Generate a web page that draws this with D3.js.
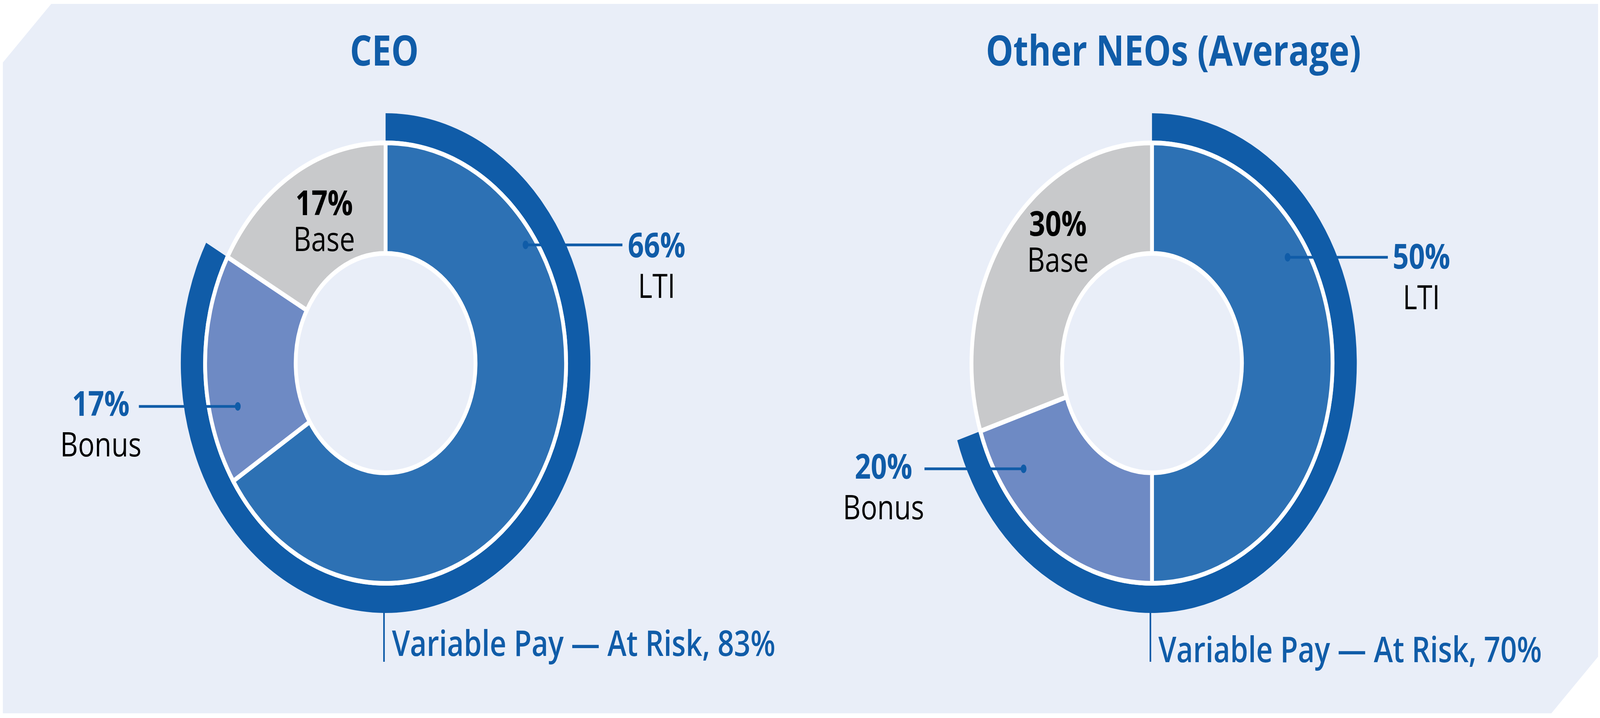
<!DOCTYPE html>
<html lang="en">
<head>
<meta charset="UTF-8">
<script src="https://d3js.org/d3.v7.min.js"></script>
<title>Pay mix</title>
<style>
  html, body { margin: 0; padding: 0; background: #ffffff; overflow: hidden; }
  #chart svg { display: block; }
  text { font-family: "Open Sans", "Noto Sans", sans-serif; }
</style>
</head>
<body>
<div id="chart"></div>
<script>

// data
var groups = ["CEO", "Other NEOs (Average)"];
var components = ["LTI", "Bonus", "Base"];
var ceoMix = [66, 17, 17];
var neoMix = [50, 20, 30];
var variablePay = [83, 70];
var variableLabel = "Variable Pay \u2014 At Risk, ";

var mixes = [ceoMix, neoMix];

// colours
var colour = d3.scaleOrdinal()
  .domain(components)
  .range(["#2D71B4", "#6E8AC4", "#C8C9CB"]);
var dark = "#105CA8";
var bg = "#E9EEF8";

var width = 5000, height = 1839;

// where each donut sits and where its labels go (offsets from centre)
var layout = [
  { cx: 1205, cy: 930, titleX: 1201, titleY: 168, varTextDy: 750,
    labels: {
      LTI:   { x: 847, y: -271, dotAngle: 55.3, dotR: 532, lineEnd: 740 },
      Bonus: { x: -890, y: 135, dotAngle: 256.5, dotR: 475, lineEnd: -771 },
      Base:  { x: -192, y: -379 }
    } },
  { cx: 3600, cy: 930, titleX: 3667, titleY: 168, varTextDy: 766,
    labels: {
      LTI:   { x: 842, y: -242, dotAngle: 57.4, dotR: 503, lineEnd: 737 },
      Bonus: { x: -839, y: 296, dotAngle: 236, dotR: 484, lineEnd: -711 },
      Base:  { x: -294, y: -326 }
    } }
];

var rInner = 281, rOuter = 564, ringIn = 570, ringOut = 640;

// the drawing is laid out on a 5000 x 1839 frame and stretched to the window
var svg = d3.select("#chart")
  .append("svg")
    .attr("viewBox", "0 0 " + width + " " + height)
    .attr("preserveAspectRatio", "none")
    .style("width", "100vw")
    .style("height", "100vh");

// background panel with cut corners
svg.append("polygon")
  .attr("points", [[160, 10], [4994, 10], [4994, 1682], [4848, 1827], [9, 1827], [9, 160]].join(" "))
  .attr("fill", bg);

var angle = d3.scaleLinear().domain([0, 100]).range([0, 2 * Math.PI]);

var pie = d3.pie().sort(null).value(function(d) { return d.value; });
var arc = d3.arc().innerRadius(rInner).outerRadius(rOuter);
var ring = d3.arc().innerRadius(ringIn).outerRadius(ringOut);

groups.forEach(function(name, i) {
  var L = layout[i];
  var g = svg.append("g")
    .attr("transform", "translate(" + L.cx + "," + L.cy + ")");

  var slices = pie(mixes[i].map(function(v, j) { return { key: components[j], value: v }; }));

  // outer "at risk" ring
  g.append("path")
    .attr("d", ring({ startAngle: 0, endAngle: angle(variablePay[i]) }))
    .attr("fill", dark);

  // donut slices
  g.selectAll("path.slice")
    .data(slices)
    .enter().append("path")
      .attr("class", "slice")
      .attr("d", arc)
      .attr("fill", function(d) { return colour(d.data.key); })
      .attr("stroke", "#ffffff")
      .attr("stroke-width", 12);

  // title
  svg.append("text")
    .attr("x", L.titleX)
    .attr("y", L.titleY)
    .attr("text-anchor", "middle")
    .attr("font-size", 108)
    .attr("font-weight", 700)
    .attr("fill", dark)
    .text(name);

  slices.forEach(function(s) {
    var key = s.data.key;
    var lab = L.labels[key];
    var pct = s.data.value + "%";
    if (key === "Base") {
      g.append("text")
        .attr("x", lab.x).attr("y", lab.y)
        .attr("text-anchor", "middle")
        .attr("font-size", 88).attr("font-weight", 700)
        .attr("fill", "#000").text(pct);
      g.append("text")
        .attr("x", lab.x).attr("y", lab.y + 92)
        .attr("text-anchor", "middle")
        .attr("font-size", 86).attr("font-weight", 400)
        .attr("fill", "#000").text(key);
      return;
    }
    var p = d3.pointRadial(lab.dotAngle * Math.PI / 180, lab.dotR);
    g.append("line")
      .attr("x1", p[0]).attr("y1", p[1])
      .attr("x2", lab.lineEnd).attr("y2", p[1])
      .attr("stroke", dark).attr("stroke-width", 7);
    g.append("ellipse")
      .attr("cx", p[0]).attr("cy", p[1])
      .attr("rx", 9).attr("ry", 11)
      .attr("fill", dark);
    g.append("text")
      .attr("x", lab.x).attr("y", lab.y)
      .attr("text-anchor", "middle")
      .attr("font-size", 88).attr("font-weight", 700)
      .attr("fill", dark).text(pct);
    g.append("text")
      .attr("x", lab.x).attr("y", lab.y + 104)
      .attr("text-anchor", "middle")
      .attr("font-size", 86).attr("font-weight", 400)
      .attr("fill", "#000").text(key);
  });

  // variable pay callout
  g.append("line")
    .attr("x1", -5).attr("y1", ringOut - 8)
    .attr("x2", -5).attr("y2", 765)
    .attr("stroke", dark).attr("stroke-width", 5);
  g.append("text")
    .attr("x", 20).attr("y", L.varTextDy)
    .attr("font-size", 90).attr("font-weight", 600)
    .attr("fill", dark)
    .text(variableLabel + variablePay[i] + "%");
});

</script>
</body>
</html>
